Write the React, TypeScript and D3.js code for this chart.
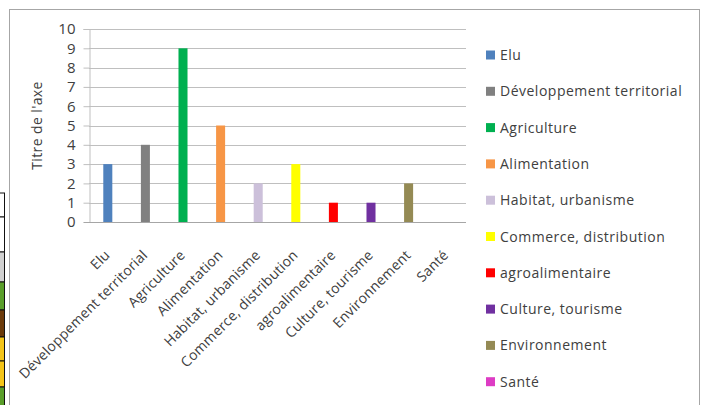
// @ts-nocheck
import React, { useEffect, useRef } from "react";
import * as d3 from "d3";

const categories = [
  "Elu",
  "Développement territorial",
  "Agriculture",
  "Alimentation",
  "Habitat, urbanisme",
  "Commerce, distribution",
  "agroalimentaire",
  "Culture, tourisme",
  "Environnement",
  "Santé",
];
const values = [3, 4, 9, 5, 2, 3, 1, 1, 2, 0];
const colors = [
  "#4f81bd",
  "#808080",
  "#00b050",
  "#f79646",
  "#ccc0da",
  "#ffff00",
  "#ff0000",
  "#7030a0",
  "#948a54",
  "#dd3cc4",
];
const yTicks = [0, 1, 2, 3, 4, 5, 6, 7, 8, 9, 10];
const yTitle = "Titre de l'axe";
// cells of the cut-off table on the left edge
const stripCells = [
  [193, 217, "#ffffff"],
  [217, 252, "#ffffff"],
  [252, 282, "#d0d0d0"],
  [282, 310, "#5a9e2a"],
  [310, 337, "#6b3a0a"],
  [337, 361, "#f5c518"],
  [361, 387, "#f5c518"],
  [387, 410, "#5a9e2a"],
];

function drawChart(el) {
  const width = 701;
  const height = 405;
  const font = "'Open Sans', 'Liberation Sans', sans-serif";

  const svg = d3
    .select(el)
    .append("svg")
    .attr("width", width)
    .attr("height", height)
    .style("position", "fixed")
    .style("left", 0)
    .style("top", 0)
    .style("background", "#fff")
    .attr("font-family", font);

  // left table strip
  const strip = svg.append("g");
  strip
    .selectAll("rect")
    .data(stripCells)
    .join("rect")
    .attr("x", -1)
    .attr("y", (d) => d[0])
    .attr("width", 5.5)
    .attr("height", (d) => d[1] - d[0])
    .attr("fill", (d) => d[2])
    .attr("stroke", "#111")
    .attr("stroke-width", 1);

  // chart frame
  svg
    .append("rect")
    .attr("x", 9.5)
    .attr("y", 9.5)
    .attr("width", 690)
    .attr("height", 420)
    .attr("fill", "#fff")
    .attr("stroke", "#a6a6a6");

  const x = d3
    .scaleBand()
    .domain(categories)
    .range([89, 465])
    .paddingInner(0.76)
    .paddingOuter(0.38);
  const y = d3.scaleLinear().domain([0, 10]).range([222, 29]);

  // gridlines
  svg
    .append("g")
    .selectAll("line")
    .data(yTicks.filter((t) => t > 0))
    .join("line")
    .attr("x1", 89)
    .attr("x2", 466)
    .attr("y1", (d) => Math.round(y(d)) + 0.5)
    .attr("y2", (d) => Math.round(y(d)) + 0.5)
    .attr("stroke", "#bfbfbf");

  // y axis
  const yAxis = d3.axisLeft(y).tickValues(yTicks).tickSize(6).tickPadding(8);
  svg
    .append("g")
    .attr("transform", "translate(89.5,0)")
    .call(yAxis)
    .call((g) => g.select(".domain").attr("stroke", "#bfbfbf"))
    .call((g) => g.selectAll(".tick line").attr("stroke", "#bfbfbf"))
    .call((g) =>
      g
        .selectAll(".tick text")
        .attr("font-size", 15)
        .attr("font-family", font)
        .attr("fill", "#404040")
    );

  // bars
  svg
    .append("g")
    .selectAll("rect")
    .data(values)
    .join("rect")
    .attr("x", (d, i) => x(categories[i]))
    .attr("y", (d) => y(d))
    .attr("width", x.bandwidth())
    .attr("height", (d) => y(0) - y(d))
    .attr("fill", (d, i) => colors[i]);

  // x axis line
  svg
    .append("line")
    .attr("x1", 84)
    .attr("x2", 466)
    .attr("y1", 222.5)
    .attr("y2", 222.5)
    .attr("stroke", "#a6a6a6");

  // x labels
  svg
    .append("g")
    .selectAll("text")
    .data(categories)
    .join("text")
    .attr(
      "transform",
      (d) => `translate(${x(d) + x.bandwidth() / 2 + 3},${256}) rotate(-45)`
    )
    .attr("text-anchor", "end")
    .attr("font-size", 14)
    .attr("letter-spacing", 0.2)
    .attr("fill", "#404040")
    .text((d) => d);

  // y title
  svg
    .append("text")
    .attr("transform", `translate(42,${(y(0) + y(10)) / 2}) rotate(-90)`)
    .attr("text-anchor", "middle")
    .attr("font-size", 14)
    .attr("letter-spacing", 0.4)
    .attr("fill", "#404040")
    .text(yTitle);

  // legend
  const legend = svg
    .append("g")
    .selectAll("g")
    .data(categories)
    .join("g")
    .attr("transform", (d, i) => `translate(486,${55 + i * 36.3})`);
  legend
    .append("rect")
    .attr("x", 0)
    .attr("y", -4.5)
    .attr("width", 9)
    .attr("height", 9)
    .attr("fill", (d, i) => colors[i]);
  legend
    .append("text")
    .attr("x", 14)
    .attr("y", 5)
    .attr("font-size", 14)
    .attr("letter-spacing", 0.5)
    .attr("fill", "#404040")
    .text((d) => d);

  return svg.node();
}

export default function App() {
  const ref = useRef(null);
  useEffect(() => {
    if (!ref.current) return;
    ref.current.innerHTML = "";
    drawChart(ref.current);
  }, []);
  return <div ref={ref} />;
}
